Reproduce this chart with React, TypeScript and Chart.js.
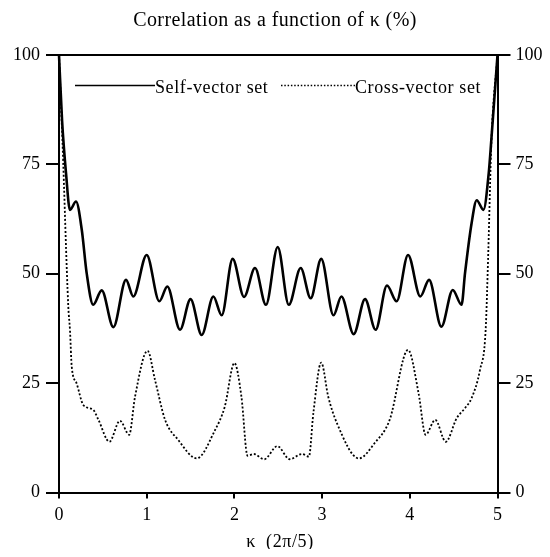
import React, { useEffect, useRef } from "react";
import { Chart, registerables } from "chart.js";

Chart.register(...registerables);

const selfX = [0, 0.035, 0.08, 0.125, 0.194, 0.26, 0.315, 0.39, 0.487, 0.62, 0.764, 0.847, 1.0, 1.144, 1.235, 1.38, 1.5, 1.627, 1.76, 1.855, 1.98, 2.11, 2.235, 2.36, 2.494, 2.62, 2.756, 2.87, 2.99, 3.13, 3.22, 3.36, 3.49, 3.61, 3.74, 3.85, 3.98, 4.12, 4.22, 4.36, 4.49, 4.59, 4.63, 4.705, 4.763, 4.84, 4.9, 4.93, 5];
const selfY = [100, 85, 73, 64.6, 66.5, 60, 50.2, 42.9, 46.2, 37.8, 48.6, 44.8, 54.3, 43.7, 47.1, 37.2, 44.2, 36.0, 44.8, 40.5, 53.4, 44.7, 51.3, 42.9, 56.1, 42.9, 51.3, 44.4, 53.4, 40.5, 44.8, 36.2, 44.2, 37.2, 47.3, 43.7, 54.3, 44.8, 48.6, 37.9, 46.3, 42.9, 50.2, 61.6, 66.8, 64.6, 73, 80.7, 100];

const crossX = [0, 0.04, 0.106, 0.125, 0.145, 0.2, 0.277, 0.39, 0.45, 0.574, 0.695, 0.8, 0.867, 1.01, 1.095, 1.21, 1.36, 1.57, 1.78, 1.89, 2.0, 2.08, 2.15, 2.22, 2.34, 2.49, 2.63, 2.77, 2.85, 2.9, 2.99, 3.07, 3.17, 3.42, 3.6, 3.77, 3.98, 4.1, 4.18, 4.29, 4.41, 4.535, 4.63, 4.705, 4.8, 4.865, 4.895, 4.93, 5];
const crossY = [100, 80, 42.5, 37.2, 28.8, 25, 20, 18.9, 16.6, 11.6, 16.4, 13.2, 21.9, 32.4, 25.7, 16.6, 12, 7.8, 14.3, 19.6, 29.6, 21.9, 8.4, 8.8, 7.6, 10.6, 7.6, 8.8, 8.2, 18.1, 29.7, 21.9, 15.8, 7.8, 11.3, 16.6, 32.6, 22.7, 13.2, 16.6, 11.6, 17, 19.3, 21.6, 28, 37.2, 55, 80, 100];

const seriesLabels = ["Self-vector set", "Cross-vector set"];
const chartTitle = "Correlation as a function of \u03BA (%)";
const xTitle = "\u03BA  (2\u03C0/5)";

const FONT = "'Liberation Serif', 'DejaVu Serif', serif";

const decor = {
  id: "decor",
  afterDraw(chart: any) {
    const { ctx, chartArea } = chart;
    const { left, right, top } = chartArea;
    ctx.save();
    // top frame line
    ctx.strokeStyle = "#000";
    ctx.lineWidth = 2;
    ctx.beginPath();
    ctx.moveTo(left, top);
    ctx.lineTo(right, top);
    ctx.stroke();
    // title
    ctx.fillStyle = "#000";
    ctx.font = `20px ${FONT}`;
    (ctx as any).letterSpacing = "0.4px";
    ctx.textAlign = "center";
    ctx.textBaseline = "alphabetic";
    ctx.fillText(chartTitle, 267, 18);
    // x title
    ctx.font = `18px ${FONT}`;
    (ctx as any).letterSpacing = "0.6px";
    ctx.fillText(xTitle, 272, 539);
    // legend
    const ly = 77.5;
    ctx.font = `18px ${FONT}`;
    (ctx as any).letterSpacing = "0.6px";
    ctx.textAlign = "left";
    ctx.lineWidth = 1.3;
    ctx.setLineDash([]);
    ctx.beginPath();
    ctx.moveTo(67, ly);
    ctx.lineTo(147, ly);
    ctx.stroke();
    ctx.fillText(seriesLabels[0], 147, 85);
    ctx.setLineDash([1.5, 1.8]);
    ctx.beginPath();
    ctx.moveTo(273, ly);
    ctx.lineTo(347, ly);
    ctx.stroke();
    ctx.setLineDash([]);
    ctx.fillText(seriesLabels[1], 347, 85);
    ctx.restore();
  },
};

export default function App() {
  const ref = useRef<HTMLCanvasElement>(null);
  useEffect(() => {
    if (!ref.current) return;
    const tickFont = { family: FONT, size: 18 };
    const chart = new Chart(ref.current, {
      type: "line",
      data: {
        datasets: [
          {
            label: seriesLabels[0],
            data: selfX.map((x, i) => ({ x, y: selfY[i] })),
            borderColor: "#000",
            borderWidth: 2.6,
            pointRadius: 0,
            cubicInterpolationMode: "monotone",
            fill: false,
            clip: 4,
          },
          {
            label: seriesLabels[1],
            data: crossX.map((x, i) => ({ x, y: crossY[i] })),
            borderColor: "#000",
            borderWidth: 1.8,
            borderDash: [2, 2],
            pointRadius: 0,
            cubicInterpolationMode: "monotone",
            fill: false,
            clip: 4,
          },
        ],
      },
      options: {
        animation: false,
        responsive: false,
        devicePixelRatio: 1,
        layout: { padding: { top: 47, left: 0, right: 0, bottom: 0 } },
        plugins: { legend: { display: false }, title: { display: false }, tooltip: { enabled: false } },
        scales: {
          x: {
            type: "linear",
            min: 0,
            max: 5,
            afterFit: (s: any) => { s.height = 56.5; },
            ticks: { stepSize: 1, color: "#000", font: tickFont, padding: 6, maxRotation: 0 },
            grid: { display: true, drawOnChartArea: false, drawTicks: true, tickLength: 6, color: "#000", lineWidth: 2 },
            border: { display: true, color: "#000", width: 2 },
          },
          y: {
            position: "left",
            min: 0,
            max: 100,
            afterFit: (s: any) => { s.width = 51; },
            ticks: { stepSize: 25, color: "#000", font: tickFont, padding: 6 },
            grid: { display: true, drawOnChartArea: false, drawTicks: true, tickLength: 13, color: "#000", lineWidth: 2 },
            border: { display: true, color: "#000", width: 2 },
          },
          y2: {
            position: "right",
            min: 0,
            max: 100,
            afterFit: (s: any) => { s.width = 44.5; },
            ticks: { stepSize: 25, color: "#000", font: tickFont, padding: 5 },
            grid: { display: true, drawOnChartArea: false, drawTicks: true, tickLength: 13, color: "#000", lineWidth: 2 },
            border: { display: true, color: "#000", width: 2 },
          },
        },
      },
      plugins: [decor],
    } as any);
    return () => chart.destroy();
  }, []);
  return (
    <div style={{ width: 534, height: 541 }}>
      <canvas ref={ref} width={534} height={541} />
    </div>
  );
}
